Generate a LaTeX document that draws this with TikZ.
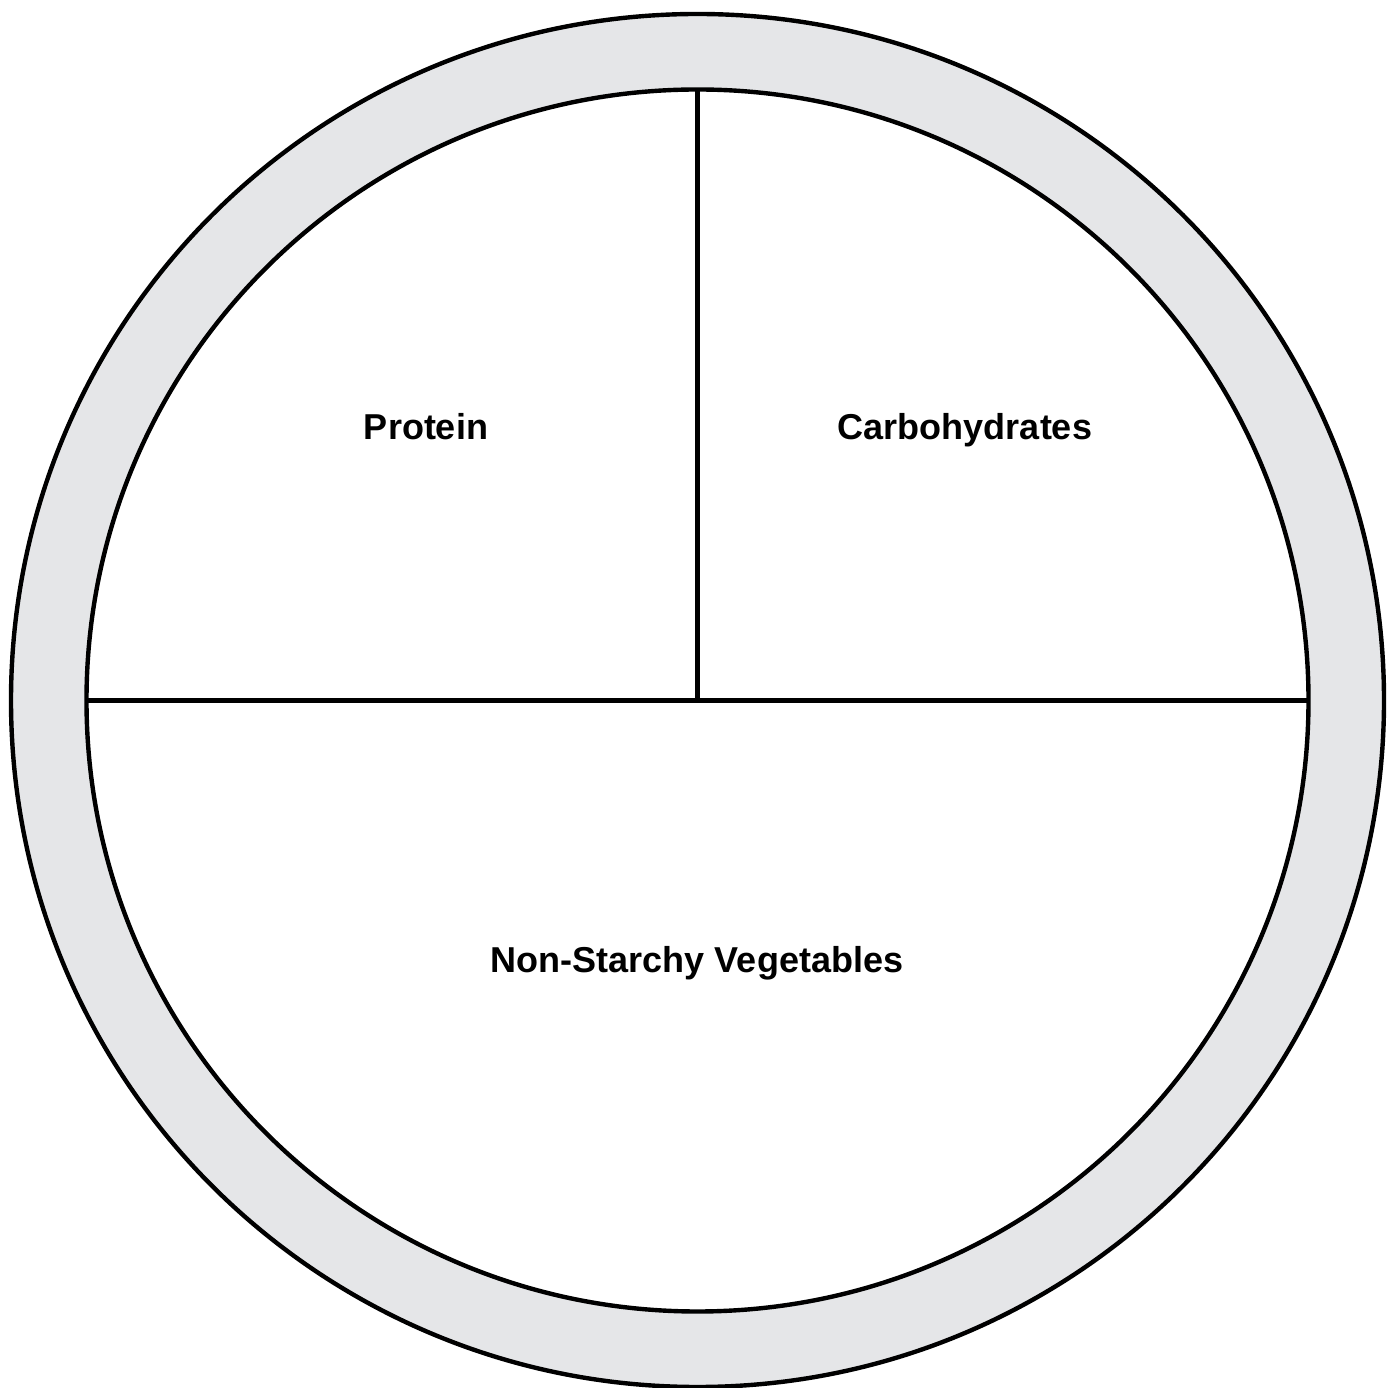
\documentclass[tikz,border=0pt]{standalone}
\usepackage{fontspec}
\setmainfont{Liberation Sans}
\definecolor{rimgray}{HTML}{E5E6E8}
\begin{document}
\begin{tikzpicture}[x=1pt,y=1pt,
  rim/.style={circle, draw=black, line width=4.4pt, fill=rimgray, minimum size=1373pt, inner sep=0pt, outer sep=0pt},
  plate/.style={circle, draw=black, line width=4.4pt, fill=white, minimum size=1222pt, inner sep=0pt, outer sep=0pt},
  divider/.style={draw=black, line width=4.4pt},
  label/.style={font=\bfseries\fontsize{36}{42}\selectfont, text=black, anchor=base}]
\useasboundingbox (0,0) rectangle (1397,1387);
\node[rim] (outer) at (697.5,686.5) {};
\node[plate] (inner) at (697.5,686.5) {};
\path[divider] (inner.north) -- (inner.center);
\path[divider] (inner.west) -- (inner.east);
\node[label] (protein) at (426,947) {Protein};
\node[label] (carbs) at (965,947) {Carbohydrates};
\node[label] (veg) at (697,414) {Non-Starchy Vegetables};
\end{tikzpicture}
\end{document}
